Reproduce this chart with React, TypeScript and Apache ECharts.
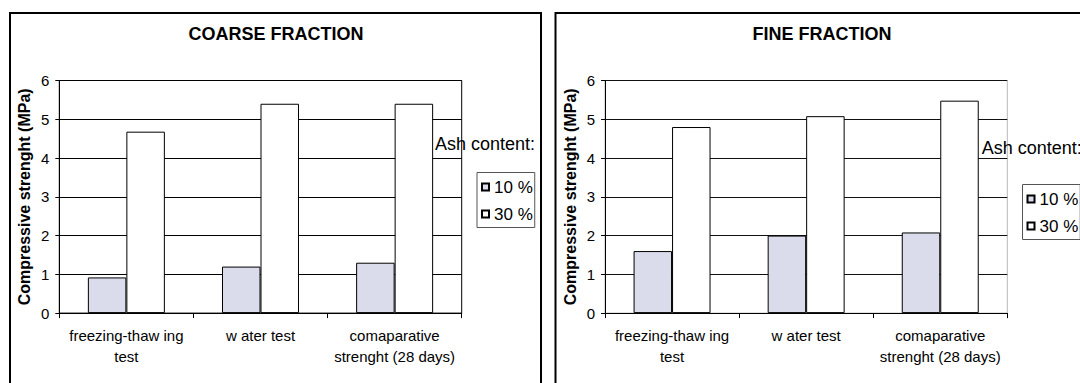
import React, { useEffect, useRef } from "react";
import * as echarts from "echarts";

const categories = ["freezing-thaw ing\ntest", "w ater test", "comaparative\nstrenght (28 days)"];
const seriesNames = ["10 %", "30 %"];
const coarse10 = [0.92, 1.2, 1.3];
const coarse30 = [4.68, 5.4, 5.4];
const fine10 = [1.6, 2.0, 2.08];
const fine30 = [4.8, 5.08, 5.48];
const panelTitles = ["COARSE FRACTION", "FINE FRACTION"];
const yAxisName = "Compressive strenght (MPa)";
const legendTitle = "Ash content:";

const FONT = "'Liberation Sans', Arial, sans-serif";
const COLOR10 = "#dadcec";
const COLOR30 = "#ffffff";

function makeAxes(idx: number) {
  const xAxis = {
    type: "category",
    gridIndex: idx,
    data: categories,
    axisLine: { show: true, lineStyle: { color: "#000", width: 1 } },
    axisTick: { show: true, length: 5, lineStyle: { color: "#000" } },
    axisLabel: {
      color: "#000",
      fontSize: 15,
      lineHeight: 21,
      fontFamily: FONT,
      margin: 12,
      interval: 0,
    },
    splitLine: { show: false },
  };
  const yAxis = {
    type: "value",
    gridIndex: idx,
    min: 0,
    max: 6,
    interval: 1,
    name: yAxisName,
    nameLocation: "middle",
    nameGap: 27,
    nameRotate: 90,
    nameTextStyle: { color: "#000", fontSize: 16, fontWeight: "bold", fontFamily: FONT },
    axisLine: { show: true, lineStyle: { color: "#000", width: 1 } },
    axisTick: { show: true, length: 4, lineStyle: { color: "#000" } },
    axisLabel: { color: "#000", fontSize: 15, fontFamily: FONT, margin: 10 },
    splitLine: { show: true, lineStyle: { color: idx === 0 ? "#000" : "#111", width: 1 } },
  };
  return { xAxis, yAxis };
}

export default function App() {
  const ref = useRef<HTMLDivElement>(null);
  useEffect(() => {
    if (!ref.current) return;
    const chart = echarts.init(ref.current, null, { renderer: "svg" });
    const a0 = makeAxes(0);
    const a1 = makeAxes(1);
    const barCommon = {
      type: "bar",
      barWidth: "28.7%",
      barGap: "0%",
    };
    const legendCommon = {
      orient: "vertical",
      data: seriesNames,
      itemWidth: 7,
      itemHeight: 7,
      itemGap: 10,
      borderColor: "#555",
      borderWidth: 1,
      padding: [6, 2, 5, 4],
      textStyle: { color: "#000", fontSize: 17, lineHeight: 17, fontFamily: FONT },
      icon: "rect",
      selectedMode: false,
    };
    const titleStyle = { color: "#000", fontSize: 18, fontWeight: "bold", fontFamily: FONT };
    chart.setOption({
      animation: false,
      backgroundColor: "#fff",
      title: [
        { text: panelTitles[0], left: 271, top: 20, textAlign: "center", textStyle: titleStyle },
        { text: panelTitles[1], left: 817, top: 20, textAlign: "center", textStyle: titleStyle },
      ],
      grid: [
        { left: 59.3, top: 80.5, width: 402.4, height: 232.6, show: true, borderColor: "#000", borderWidth: 1, backgroundColor: "transparent" },
        { left: 605, top: 80.5, width: 402.3, height: 232.6, show: true, borderColor: "#b8b8b8", borderWidth: 1, backgroundColor: "transparent" },
      ],
      xAxis: [a0.xAxis, a1.xAxis],
      yAxis: [a0.yAxis, a1.yAxis],
      legend: [
        { ...legendCommon, left: 477, top: 172.5 },
        { ...legendCommon, left: 1022.5, top: 184.5 },
      ],
      series: [
        { ...barCommon, name: seriesNames[0], xAxisIndex: 0, yAxisIndex: 0, data: coarse10, itemStyle: { color: COLOR10, borderColor: "#000", borderWidth: 1 } },
        { ...barCommon, name: seriesNames[1], xAxisIndex: 0, yAxisIndex: 0, data: coarse30, itemStyle: { color: COLOR30, borderColor: "#000", borderWidth: 1 } },
        { ...barCommon, name: seriesNames[0], xAxisIndex: 1, yAxisIndex: 1, data: fine10, itemStyle: { color: COLOR10, borderColor: "#000", borderWidth: 1 } },
        { ...barCommon, name: seriesNames[1], xAxisIndex: 1, yAxisIndex: 1, data: fine30, itemStyle: { color: COLOR30, borderColor: "#000", borderWidth: 1 } },
      ],
      graphic: [
        {
          type: "rect",
          shape: { x: 10, y: 13, width: 531, height: 420 },
          style: { fill: "none", stroke: "#000", lineWidth: 2 },
          silent: true,
        },
        {
          type: "rect",
          shape: { x: 555.5, y: 13, width: 540, height: 420 },
          style: { fill: "none", stroke: "#000", lineWidth: 2 },
          silent: true,
        },
        {
          type: "text",
          x: 435,
          y: 144,
          style: { text: legendTitle, fill: "#000", fontSize: 18, fontFamily: FONT, verticalAlign: "middle", align: "left" },
          silent: true,
        },
        {
          type: "text",
          x: 981.7,
          y: 148,
          style: { text: legendTitle, fill: "#000", fontSize: 18, fontFamily: FONT, verticalAlign: "middle", align: "left" },
          silent: true,
        },
      ],
    });
    return () => chart.dispose();
  }, []);
  return (
    <div
      ref={ref}
      style={{ position: "fixed", left: 0, top: 0, width: 1080, height: 383, background: "#fff" }}
    />
  );
}
